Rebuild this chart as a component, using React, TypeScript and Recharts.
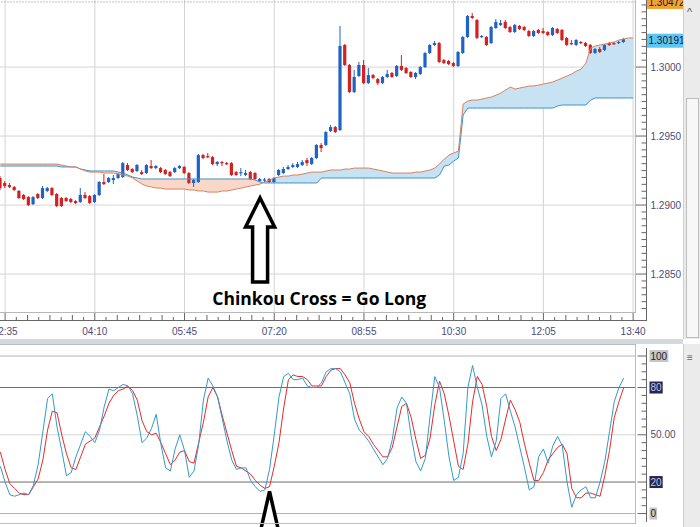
import React from "react";
import {
  Area,
  Bar,
  CartesianGrid,
  ComposedChart,
  Line,
  ReferenceDot,
  ReferenceLine,
  XAxis,
  YAxis,
} from "recharts";

// 5 minute bars, first one at 02:30
const START_MIN = 150;
const STEP_MIN = 5;
const BAR_COUNT = 135;

const timeLabels = ["02:35", "04:10", "05:45", "07:20", "08:55", "10:30", "12:05", "13:40"];
const priceLabels = [1.285, 1.29, 1.295, 1.3];
const stochLevels = [0, 20, 50, 80, 100];
const stochLabels = ["0", "20", "50.00", "80", "100"];

const opens = [
  1.29196, 1.2916, 1.29145, 1.29131, 1.29102, 1.29073, 1.29058, 1.29007, 1.2908, 1.29051,
  1.29102, 1.29123, 1.2908, 1.29051, 1.29051, 1.29044, 1.29029, 1.29022, 1.29073, 1.29065,
  1.29022, 1.29073, 1.29167, 1.29167, 1.29181, 1.29196, 1.29203, 1.2929, 1.29261, 1.29247,
  1.29239, 1.29232, 1.29283, 1.29268, 1.29268, 1.29254, 1.29239, 1.29239, 1.29268, 1.29276,
  1.29232, 1.2916, 1.29167, 1.29362, 1.29355, 1.29348, 1.29297, 1.29312, 1.29304, 1.29304,
  1.29239, 1.29232, 1.29218, 1.29239, 1.29232, 1.29174, 1.29178, 1.29189, 1.29167, 1.29218,
  1.29232, 1.29261, 1.29276, 1.29276, 1.2929, 1.29326, 1.29297, 1.29341, 1.29435, 1.29435,
  1.29536, 1.29565, 1.29544, 1.3016, 1.30015, 1.29819, 1.29935, 1.30015, 1.29884, 1.29942,
  1.29913, 1.29884, 1.29928, 1.29957, 1.29935, 1.30008, 1.29993, 1.29964, 1.29928, 1.2995,
  1.3, 1.30102, 1.3016, 1.30174, 1.30051, 1.30044, 1.30029, 1.30008, 1.30102, 1.30218,
  1.3037, 1.30341, 1.30218, 1.30218, 1.30174, 1.30283, 1.30305, 1.30327, 1.3029, 1.30254,
  1.30298, 1.3029, 1.30261, 1.30225, 1.30269, 1.30261, 1.30254, 1.30232, 1.30276, 1.30269,
  1.30211, 1.30174, 1.3016, 1.30182, 1.30174, 1.3016, 1.30102, 1.30131, 1.30124, 1.30174,
  1.30174, 1.30174, 1.30182,
];
const highs = [
  1.2921, 1.29174, 1.2916, 1.29138, 1.29109, 1.2908, 1.29065, 1.29065, 1.29087, 1.29138,
  1.29131, 1.29131, 1.29087, 1.29058, 1.29058, 1.29051, 1.29036, 1.29123, 1.29094, 1.29073,
  1.2908, 1.29174, 1.29225, 1.29203, 1.29218, 1.29232, 1.29312, 1.29304, 1.29268, 1.29297,
  1.29254, 1.29297, 1.29326, 1.2929, 1.29276, 1.29261, 1.29247, 1.29276, 1.2929, 1.29283,
  1.29239, 1.29189, 1.2937, 1.2937, 1.29377, 1.29355, 1.29319, 1.29319, 1.29312, 1.29312,
  1.29247, 1.29268, 1.29254, 1.29247, 1.29239, 1.29196, 1.29196, 1.29196, 1.29203, 1.29261,
  1.29276, 1.2929, 1.29304, 1.29312, 1.29326, 1.29341, 1.29348, 1.29442, 1.29449, 1.29536,
  1.2958, 1.29573, 1.30298, 1.30167, 1.30022, 1.29979, 1.30037, 1.30051, 1.29993, 1.2995,
  1.29921, 1.29935, 1.29979, 1.29964, 1.30015, 1.30087, 1.3, 1.29971, 1.29964, 1.30008,
  1.30109, 1.30167, 1.30189, 1.30182, 1.30058, 1.30051, 1.30037, 1.30116, 1.30225, 1.30377,
  1.30392, 1.30348, 1.30232, 1.30225, 1.30298, 1.30348, 1.30341, 1.30341, 1.30298, 1.30312,
  1.30305, 1.30298, 1.30269, 1.30269, 1.30276, 1.30283, 1.30261, 1.3029, 1.30283, 1.30276,
  1.30218, 1.30196, 1.30203, 1.30189, 1.30182, 1.30167, 1.30138, 1.30145, 1.30167, 1.30182,
  1.30182, 1.30189, 1.30211,
];
const lows = [
  1.29109, 1.29123, 1.29123, 1.29102, 1.29044, 1.29036, 1.28993, 1.29, 1.29044, 1.29044,
  1.29094, 1.29065, 1.28986, 1.28986, 1.29022, 1.29015, 1.29007, 1.29015, 1.29044, 1.29007,
  1.29015, 1.29065, 1.29145, 1.2916, 1.29152, 1.29189, 1.29196, 1.29247, 1.29232, 1.29239,
  1.29218, 1.29225, 1.29261, 1.29261, 1.29232, 1.29218, 1.29203, 1.29232, 1.29261, 1.29225,
  1.29152, 1.29131, 1.2916, 1.29333, 1.29341, 1.2929, 1.29283, 1.29283, 1.2929, 1.2921,
  1.2921, 1.2921, 1.2921, 1.29181, 1.29181, 1.29167, 1.29167, 1.2916, 1.2916, 1.2921,
  1.29225, 1.29254, 1.29268, 1.29268, 1.29283, 1.29283, 1.2929, 1.29333, 1.29384, 1.29428,
  1.29529, 1.29522, 1.29536, 1.30008, 1.29812, 1.29812, 1.29928, 1.29877, 1.29877, 1.29913,
  1.2987, 1.29877, 1.29921, 1.29921, 1.29928, 1.29971, 1.2995, 1.29921, 1.29913, 1.29942,
  1.29993, 1.30095, 1.30153, 1.30029, 1.30022, 1.30015, 1.3, 1.3, 1.30095, 1.30211,
  1.30348, 1.30203, 1.30211, 1.30153, 1.30167, 1.30276, 1.30298, 1.30276, 1.30247, 1.30247,
  1.30269, 1.30261, 1.30218, 1.30218, 1.3024, 1.3024, 1.30225, 1.30225, 1.3024, 1.30189,
  1.30153, 1.3016, 1.30153, 1.30167, 1.30145, 1.30095, 1.30095, 1.30102, 1.30116, 1.30153,
  1.3016, 1.30167, 1.30174,
];
const closes = [
  1.29123, 1.29138, 1.29131, 1.29109, 1.29051, 1.29044, 1.29, 1.29058, 1.29051, 1.29123,
  1.29123, 1.29073, 1.28993, 1.28993, 1.29029, 1.29022, 1.29015, 1.29073, 1.29051, 1.29015,
  1.29073, 1.29167, 1.29152, 1.29196, 1.29196, 1.29225, 1.29304, 1.29254, 1.29239, 1.2929,
  1.29225, 1.2929, 1.29268, 1.29283, 1.29239, 1.29225, 1.2921, 1.29268, 1.29283, 1.29232,
  1.2916, 1.29181, 1.29362, 1.29341, 1.29348, 1.29297, 1.29312, 1.29304, 1.29297, 1.29218,
  1.29218, 1.29239, 1.29232, 1.29189, 1.29189, 1.29189, 1.29185, 1.29167, 1.29196, 1.29254,
  1.29261, 1.29276, 1.2929, 1.29297, 1.29312, 1.29304, 1.29341, 1.29435, 1.29413, 1.29529,
  1.29565, 1.29529, 1.30153, 1.30015, 1.29819, 1.29928, 1.30015, 1.29884, 1.29942, 1.29921,
  1.29884, 1.29928, 1.2995, 1.29928, 1.30008, 1.29979, 1.29957, 1.29928, 1.29957, 1.3,
  1.30102, 1.3016, 1.30174, 1.30037, 1.30029, 1.30022, 1.30008, 1.30109, 1.30218, 1.3037,
  1.30356, 1.30211, 1.30225, 1.3016, 1.3029, 1.30327, 1.30319, 1.30283, 1.30254, 1.30305,
  1.30276, 1.30269, 1.30225, 1.30261, 1.30247, 1.30247, 1.30232, 1.30283, 1.30247, 1.30196,
  1.3016, 1.30167, 1.30196, 1.30174, 1.30153, 1.30102, 1.30131, 1.30109, 1.3016, 1.3016,
  1.30167, 1.30182, 1.30203,
];

// senkou span A (copper line) and span B (blue line)
const spanA = [
  1.29297, 1.29297, 1.29297, 1.29297, 1.29297, 1.29297, 1.29297, 1.29297, 1.29297, 1.29297,
  1.29297, 1.29297, 1.29297, 1.2929, 1.29283, 1.29276, 1.29276, 1.29261, 1.29247, 1.29239,
  1.29239, 1.29239, 1.29232, 1.29232, 1.29232, 1.29225, 1.29218, 1.2921, 1.29196, 1.29174,
  1.29152, 1.29138, 1.29131, 1.29123, 1.29123, 1.29116, 1.29116, 1.29116, 1.29116, 1.29116,
  1.29109, 1.29109, 1.29102, 1.29102, 1.29094, 1.29094, 1.29094, 1.29102, 1.29102, 1.29109,
  1.29116, 1.29123, 1.29131, 1.29138, 1.29145, 1.29152, 1.29167, 1.29181, 1.29196, 1.29203,
  1.2921, 1.2921, 1.29218, 1.29218, 1.29225, 1.29232, 1.29239, 1.29239, 1.29239, 1.29247,
  1.29254, 1.29254, 1.29254, 1.29261, 1.29261, 1.29268, 1.29268, 1.29268, 1.29268, 1.29261,
  1.29254, 1.29247, 1.29239, 1.29232, 1.29232, 1.29232, 1.29232, 1.29232, 1.29239, 1.29239,
  1.29247, 1.29254, 1.29268, 1.29297, 1.29333, 1.29362, 1.29377, 1.29391, 1.29732, 1.29754,
  1.29761, 1.29761, 1.29768, 1.29776, 1.29783, 1.29797, 1.29812, 1.29834, 1.29855, 1.29841,
  1.29848, 1.29855, 1.29863, 1.29863, 1.2987, 1.29877, 1.29884, 1.29892, 1.29906, 1.29921,
  1.29935, 1.2995, 1.29971, 1.29986, 1.30029, 1.30138, 1.30153, 1.3016, 1.30167, 1.30174,
  1.30182, 1.30196, 1.30203, 1.30211, 1.30211,
];
const spanB = [
  1.29283, 1.29283, 1.29283, 1.29283, 1.29283, 1.29283, 1.29283, 1.29283, 1.29283, 1.29283,
  1.29283, 1.29283, 1.29283, 1.29276, 1.29276, 1.29276, 1.29276, 1.29261, 1.29254, 1.29247,
  1.29247, 1.29247, 1.29247, 1.29247, 1.29247, 1.29239, 1.29232, 1.29218, 1.29203, 1.29196,
  1.29189, 1.29189, 1.29189, 1.29189, 1.29189, 1.29189, 1.29189, 1.29189, 1.29189, 1.29189,
  1.29189, 1.29189, 1.29189, 1.29189, 1.29189, 1.29189, 1.29189, 1.29189, 1.29189, 1.29189,
  1.29189, 1.29189, 1.29189, 1.29189, 1.29181, 1.29167, 1.2916, 1.2916, 1.2916, 1.2916,
  1.2916, 1.2916, 1.2916, 1.2916, 1.2916, 1.2916, 1.2916, 1.2916, 1.29196, 1.29196,
  1.29196, 1.29196, 1.29196, 1.29196, 1.29196, 1.29196, 1.29196, 1.29196, 1.29196, 1.29196,
  1.29196, 1.29196, 1.29196, 1.29196, 1.29196, 1.29196, 1.29196, 1.29196, 1.29196, 1.29196,
  1.29196, 1.29196, 1.29196, 1.29218, 1.29283, 1.2929, 1.29319, 1.29341, 1.29652, 1.29703,
  1.29703, 1.29703, 1.29703, 1.29703, 1.29703, 1.29703, 1.29703, 1.29703, 1.29703, 1.29703,
  1.29703, 1.29703, 1.29703, 1.29703, 1.29703, 1.29703, 1.29703, 1.29703, 1.29718, 1.29725,
  1.29725, 1.29725, 1.29725, 1.29725, 1.29725, 1.29761, 1.29776, 1.29776, 1.29776, 1.29776,
  1.29776, 1.29776, 1.29776, 1.29776, 1.29776,
];

// stochastic %K (blue) and %D (red)
const stochK = [
  30, 20, 12, 11, 12, 13, 12, 18, 31, 52, 73, 76, 55, 40, 24, 26, 36, 44, 52, 49,
  45, 53, 68, 79, 78, 80, 82, 81, 76, 62, 45, 48, 54, 63, 44, 29, 27, 41, 50, 40,
  23, 27, 44, 72, 86, 81, 74, 60, 46, 34, 28, 29, 29, 21, 17, 14, 15, 28, 50, 74,
  87, 89, 85, 85, 86, 81, 80, 80, 83, 90, 92, 92, 90, 83, 76, 60, 53, 50, 46, 41,
  36, 31, 35, 47, 67, 74, 70, 49, 33, 27, 35, 62, 87, 80, 59, 36, 21, 23, 38, 80,
  94, 80, 69, 49, 36, 46, 73, 76, 65, 55, 42, 29, 15, 17, 36, 41, 32, 43, 49, 43,
  20, 4, 12, 15, 17, 10, 10, 20, 33, 52, 71, 80, 86,
];
const stochD = [
  39, 28, 19, 16, 13, 12, 12, 17, 22, 34, 53, 65, 64, 50, 38, 29, 28, 36, 44, 46,
  48, 55, 62, 70, 75, 78, 79, 81, 78, 72, 59, 52, 50, 51, 45, 38, 31, 34, 39, 40,
  33, 32, 45, 58, 74, 80, 74, 62, 51, 40, 30, 29, 27, 25, 21, 18, 16, 17, 30, 45,
  67, 85, 88, 87, 87, 85, 81, 81, 81, 87, 91, 92, 92, 88, 83, 70, 60, 52, 49, 44,
  40, 36, 36, 42, 55, 68, 70, 61, 47, 35, 37, 48, 69, 84, 76, 62, 46, 30, 28, 44,
  71, 87, 82, 68, 49, 40, 47, 60, 72, 66, 58, 44, 32, 21, 21, 26, 34, 38, 42, 44,
  38, 16, 10, 10, 13, 13, 12, 11, 24, 40, 61, 71, 80,
];

const pad = (n: number) => String(n).padStart(2, "0");
const times = Array.from({ length: BAR_COUNT }, (_, i) => {
  const m = START_MIN + i * STEP_MIN;
  return `${pad(Math.floor(m / 60))}:${pad(m % 60)}`;
});

const rows = times.map((t, i) => ({
  t,
  open: opens[i] ?? null,
  high: highs[i] ?? null,
  low: lows[i] ?? null,
  close: closes[i] ?? null,
  a: spanA[i],
  b: spanB[i],
  k: stochK[i] ?? null,
  d: stochD[i] ?? null,
}));

const priceTicks = Array.from({ length: 45 }, (_, i) => Math.round((1.2825 + i * 0.0005) * 1e4) / 1e4);
const stochTicks = Array.from({ length: 21 }, (_, i) => i * 5);

// layout
const LEFT = -2;
const W = 701.5;
const AXIS_W = 64;
const PLOT_W = W - AXIS_W;
const TOP_H = 340;
const TOP_PLOT_H = 312;
const LOW_TOP = 345;

const FONT = "'Liberation Sans', Arial, sans-serif";
const AXIS_TEXT = "#4c4c78";
const TICK = "#666";
const BULL = "#1f63c6";
const BEAR = "#d42020";
const SPAN_A = "#d9825f";
const SPAN_B = "#3f92cb";
const FILL_BULL = "#c7e2f3";
const FILL_BEAR = "#f9d7c9";
const GRID = "#d4d4d4";

function Candle(props: any) {
  const { x, y, width, height, payload } = props;
  if (!payload || payload.open == null || !isFinite(y) || !isFinite(height)) return <g />;
  const { open, close, high, low } = payload;
  const top = Math.min(y, y + height);
  const h = Math.abs(height);
  const span = high - low || 1e-6;
  const py = (v: number) => top + ((high - v) / span) * h;
  const color = close >= open ? BULL : BEAR;
  const cx = x + width / 2;
  const bTop = py(Math.max(open, close));
  const bBot = py(Math.min(open, close));
  return (
    <g>
      <line x1={cx} x2={cx} y1={top} y2={top + h} stroke={color} strokeWidth={1} />
      <rect x={cx - 1.6} y={bTop} width={3.2} height={Math.max(1.2, bBot - bTop)} fill={color} />
    </g>
  );
}

function TimeTick(props: any) {
  const { x, y, payload } = props;
  const step = ((PLOT_W / BAR_COUNT) * 19) / 8;
  const isLast = payload.value === timeLabels[timeLabels.length - 1];
  const base = y + 8;
  const minors = isLast ? [] : [1, 2, 3, 4, 5, 6, 7];
  return (
    <g>
      <line x1={x} x2={x} y1={base} y2={y} stroke={TICK} />
      {minors.map((m) => (
        <line
          key={m}
          x1={x + m * step}
          x2={x + m * step}
          y1={base}
          y2={base - (m % 2 === 0 ? 5 : 3)}
          stroke={TICK}
        />
      ))}
      <text x={x} y={y + 22.5} textAnchor="middle" fontSize={10} fontFamily={FONT} fill={AXIS_TEXT}>
        {payload.value}
      </text>
    </g>
  );
}

function PriceTick(props: any) {
  const { x, y, payload } = props;
  const v = payload.value as number;
  const major = priceLabels.some((p) => Math.abs(p - v) < 1e-6);
  const ax = x + 11;
  return (
    <g>
      <line x1={major ? ax - 11 : ax - 5} x2={ax} y1={y} y2={y} stroke={TICK} />
      {major && (
        <text x={ax + 4} y={y + 3.5} fontSize={10} fontFamily={FONT} fill={AXIS_TEXT}>
          {v.toFixed(4)}
        </text>
      )}
    </g>
  );
}

function StochTick(props: any) {
  const { x, y, payload } = props;
  const v = payload.value as number;
  const li = stochLevels.indexOf(v);
  const ax = x + 11;
  const major = li >= 0;
  const label = major ? stochLabels[li] : "";
  const dark = v === 20 || v === 80;
  const boxed = major && v !== 50;
  const bw = label.length * 5.6 + 2;
  return (
    <g>
      <line x1={major ? ax - 9 : ax - 5} x2={ax} y1={y} y2={y} stroke={TICK} />
      {boxed && <rect x={ax + 3} y={y - 6} width={bw} height={12} fill={dark ? "#262652" : "#c6c6c6"} />}
      {major && (
        <text
          x={ax + 4}
          y={y + 3.5}
          fontSize={10}
          fontFamily={FONT}
          fill={dark ? "#c4c4e4" : v === 50 ? AXIS_TEXT : "#222"}
        >
          {label}
        </text>
      )}
    </g>
  );
}

function PriceTag(props: any) {
  const { viewBox, text, bg } = props;
  if (!viewBox) return null;
  const x = viewBox.x + viewBox.width + 11.5;
  const y = viewBox.y;
  return (
    <g>
      <rect x={x} y={y - 7} width={37} height={14} fill={bg} />
      <text x={x + 1.5} y={y + 3.6} fontSize={10} fontFamily={FONT} fill="#14143a">
        {text}
      </text>
    </g>
  );
}

const arrowPath = (cx: number, cy: number, hw: number, hh: number, sw: number, len: number) =>
  `M ${cx} ${cy} L ${cx + hw} ${cy + hh} L ${cx + sw} ${cy + hh} L ${cx + sw} ${cy + len} ` +
  `L ${cx - sw} ${cy + len} L ${cx - sw} ${cy + hh} L ${cx - hw} ${cy + hh} Z`;

function UpArrow(props: any) {
  return (
    <path d={arrowPath(props.cx, props.cy, 14.5, 29, 7.5, 84)} fill="#fff" stroke="#000" strokeWidth={3.5} />
  );
}

function LowArrow(props: any) {
  return (
    <path d={arrowPath(props.cx, props.cy, 11, 48, 6, 90)} fill="#fff" stroke="#000" strokeWidth={3.5} />
  );
}

function Caption(props: any) {
  return (
    <text
      x={props.cx + 2.5}
      y={props.cy + 3}
      textAnchor="middle"
      fontFamily="'Open Sans', sans-serif"
      fontWeight={700}
      fontSize={18}
      textLength={214}
      lengthAdjust="spacingAndGlyphs"
      fill="#000"
    >
      Chinkou Cross = Go Long
    </text>
  );
}

const bullRange = (r: any) => [r.b, Math.max(r.a, r.b)];
const bearRange = (r: any) => [Math.min(r.a, r.b), r.b];
const candleRange = (r: any) => (r.open == null ? null : [r.low, r.high]);

const abs = (left: number, top: number, width: number, height: number, extra: any = {}) => ({
  position: "absolute" as const,
  left,
  top,
  width,
  height,
  ...extra,
});

export default function App() {
  return (
    <div style={abs(0, 0, 700, 527, { overflow: "hidden", background: "#fff" })}>
      <div style={abs(LEFT, 0, W, TOP_H)}>
        <ComposedChart width={W} height={TOP_H} data={rows} margin={{ top: 0, right: 0, bottom: 0, left: 0 }}>
          <CartesianGrid stroke={GRID} horizontalValues={priceLabels} />
          <XAxis
            dataKey="t"
            scale="band"
            ticks={timeLabels}
            interval={0}
            height={TOP_H - TOP_PLOT_H}
            tickSize={0}
            tickMargin={0}
            axisLine={false}
            tickLine={false}
            tick={TimeTick}
          />
          <YAxis
            orientation="right"
            type="number"
            domain={[1.28225, 1.30486]}
            allowDataOverflow
            ticks={priceTicks}
            interval={0}
            width={AXIS_W}
            tickSize={0}
            tickMargin={0}
            axisLine={false}
            tickLine={false}
            tick={PriceTick}
          />
          <Area dataKey={bullRange} stroke="none" fill={FILL_BULL} fillOpacity={1} isAnimationActive={false} activeDot={false} />
          <Area dataKey={bearRange} stroke="none" fill={FILL_BEAR} fillOpacity={1} isAnimationActive={false} activeDot={false} />
          <Line dataKey="b" stroke={SPAN_B} strokeWidth={1} dot={false} activeDot={false} isAnimationActive={false} />
          <Line dataKey="a" stroke={SPAN_A} strokeWidth={1} dot={false} activeDot={false} isAnimationActive={false} />
          <Bar dataKey={candleRange} barSize={4} shape={Candle} isAnimationActive={false} />
          <ReferenceLine
            y={1.30472}
            stroke="#888"
            strokeDasharray="1 2"
            label={<PriceTag text="1.30472" bg="#f2a233" />}
          />
          <ReferenceLine y={1.30191} stroke="none" label={<PriceTag text="1.30191" bg="#5cc6f2" />} />
          <ReferenceDot x={times[55]} y={1.29051} r={0} shape={UpArrow} ifOverflow="visible" />
          <ReferenceDot x={times[67]} y={1.283} r={0} shape={Caption} ifOverflow="visible" />
        </ComposedChart>
      </div>

      <div style={abs(LEFT, LOW_TOP, W, 182)}>
        <ComposedChart width={W} height={182} data={rows} margin={{ top: 0, right: 0, bottom: 4, left: 0 }}>
          <CartesianGrid stroke={GRID} horizontalValues={[50]} />
          <XAxis dataKey="t" scale="band" ticks={timeLabels} interval={0} height={0} tick={false} axisLine={false} tickLine={false} />
          <YAxis
            orientation="right"
            type="number"
            domain={[-6, 107]}
            allowDataOverflow
            ticks={stochTicks}
            interval={0}
            width={AXIS_W}
            tickSize={0}
            tickMargin={0}
            axisLine={false}
            tickLine={false}
            tick={StochTick}
          />
          <ReferenceLine y={100} stroke="#b2b2b2" />
          <ReferenceLine y={0} stroke="#b2b2b2" />
          <ReferenceLine y={80} stroke="#6c6c6c" />
          <ReferenceLine y={20} stroke="#6c6c6c" />
          <Line dataKey="d" stroke="#e62a2a" strokeWidth={1} dot={false} activeDot={false} isAnimationActive={false} />
          <Line dataKey="k" stroke="#3399cc" strokeWidth={1} dot={false} activeDot={false} isAnimationActive={false} />
          <ReferenceDot x={times[57]} y={14} r={0} shape={LowArrow} ifOverflow="visible" />
        </ComposedChart>
      </div>

      {/* frame lines of the terminal window */}
      <div style={abs(0, 312, 636, 1, { background: "#b8b8b8" })} />
      <div style={abs(635, 0, 1, 313, { background: "#b8b8b8" })} />
      <div style={abs(0, 320, 647, 1, { background: TICK })} />
      <div style={abs(646, 0, 1, 321, { background: TICK })} />
      <div style={abs(0, 339, 683, 5, { background: "#d5d9de" })} />
      <div
        style={abs(-1, 344, 637, 180, {
          boxSizing: "border-box",
          borderTop: "1px solid #bcbcbc",
          borderBottom: "1px solid #bcbcbc",
          borderRight: "1px solid #bcbcbc",
        })}
      />
      <div style={abs(646, 348, 1, 174, { background: TICK })} />

      {/* scroll bars */}
      <div style={abs(683, 0, 17, 339, { background: "#ebebeb", borderLeft: "1px solid #cfcfcf" })} />
      <div style={abs(686, 98, 11, 238, { background: "#f7f7f7", border: "1px solid #bdbdbd" })} />
      <div style={abs(687, 6, 12, 14, { fontFamily: FONT, fontSize: 11, color: "#555" })}>^</div>
      <div style={abs(683, 344, 17, 183, { background: "#ebebeb", borderLeft: "1px solid #cfcfcf" })} />
      <div style={abs(687, 352, 12, 14, { fontFamily: FONT, fontSize: 10, color: "#666" })}>≡</div>
    </div>
  );
}
